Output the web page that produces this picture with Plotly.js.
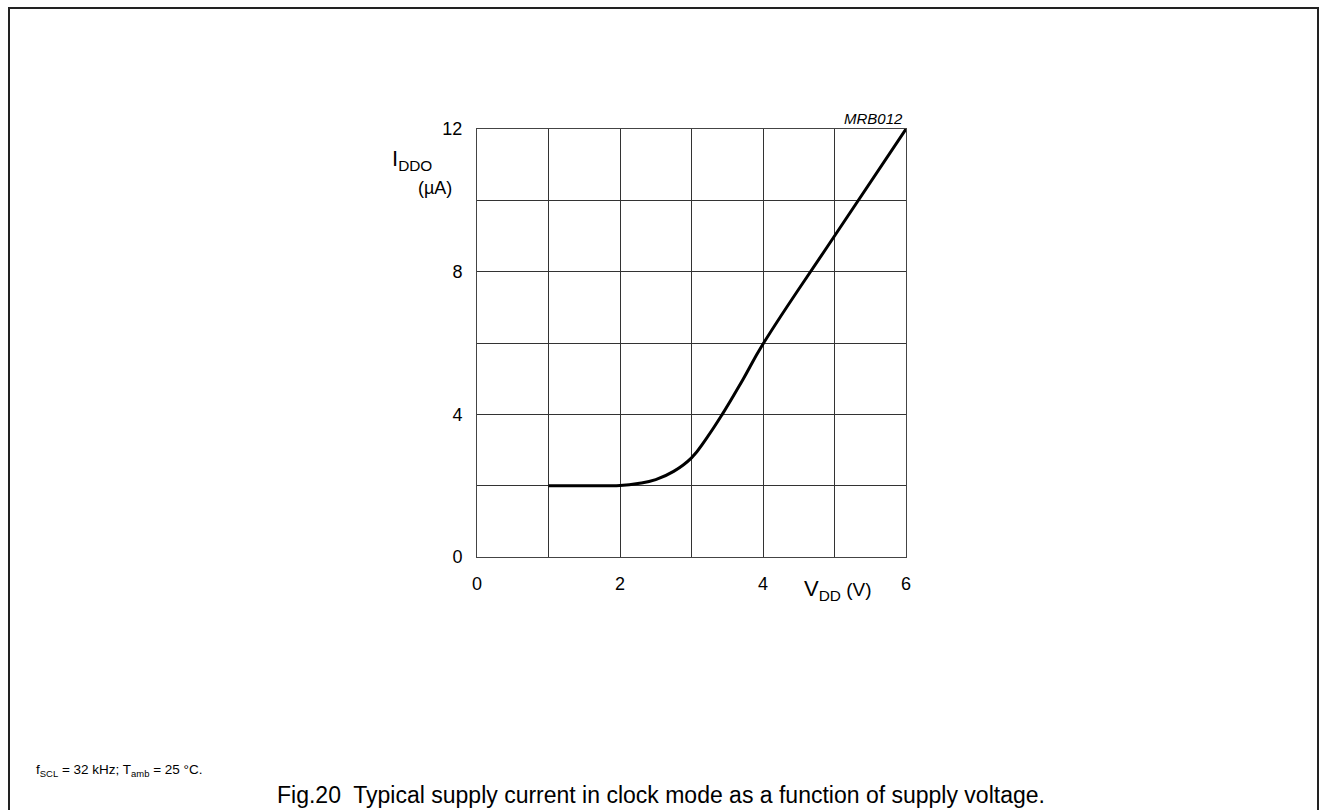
<!DOCTYPE html>
<html><head><meta charset="utf-8">
<script src="https://cdn.plot.ly/plotly-3.0.1.min.js"></script>
<style>html,body{margin:0;padding:0;background:#fff}#c{width:1329px;height:810px}</style>
</head><body><div id="c"></div>
<script>
const vdd = [1, 1.5, 1.8, 2, 2.25, 2.5, 2.75, 3, 3.2, 3.43, 3.72, 4, 5, 6];
const iddo = [2, 2, 2, 2.005, 2.06, 2.17, 2.4, 2.78, 3.3, 4, 4.98, 5.97, 9, 12];
const xTickVals = [0, 1, 2, 3, 4, 5, 6];
const xTickText = ['0', '', '2', '', '4', '', '6'];
const yTickVals = [0, 2, 4, 6, 8, 10, 12];
const yTickText = ['0', '', '4', '', '8', '', '12'];

const F = 'Liberation Sans, Arial, sans-serif';
const L = 477, R = 906, T = 129, B = 557, W = 1329, H = 810;
const px = v => (v - L) / (R - L);
const py = v => (B - v) / (B - T);

const trace = {x: vdd, y: iddo, mode: 'lines', line: {color: '#000', width: 3, shape: 'spline', smoothing: 1.3}, hoverinfo: 'skip'};

const layout = {
  width: W, height: H,
  margin: {l: L, r: W - R, t: T, b: H - B},
  paper_bgcolor: '#fff', plot_bgcolor: '#fff',
  showlegend: false,
  font: {family: F, size: 18, color: '#000'},
  xaxis: {range: [0, 6], tickvals: xTickVals, ticktext: xTickText, showgrid: true, gridcolor: '#333', gridwidth: 1,
    showline: true, linecolor: '#444', linewidth: 1, mirror: true, zeroline: false, ticks: '', ticklabelstandoff: 10,
    tickfont: {family: F, size: 18}},
  yaxis: {range: [0, 12], tickvals: yTickVals, ticktext: yTickText, showgrid: true, gridcolor: '#333', gridwidth: 1,
    showline: true, linecolor: '#444', linewidth: 1, mirror: true, zeroline: false, ticks: '', ticklabelstandoff: 10,
    tickfont: {family: F, size: 18}},
  shapes: [
    {type: 'path', xref: 'paper', yref: 'paper',
     path: `M ${px(9)} ${py(810)} L ${px(9)} ${py(8)} L ${px(1318)} ${py(8)} L ${px(1318)} ${py(810)}`,
     line: {color: '#222', width: 2}}
  ],
  annotations: [
    {xref: 'paper', yref: 'paper', x: px(905), y: py(118), xanchor: 'right', yanchor: 'middle', showarrow: false,
     text: '<i>MRB012</i>', font: {family: F, size: 15}},
    {xref: 'paper', yref: 'paper', x: px(434), y: py(160), xanchor: 'right', yanchor: 'middle', showarrow: false,
     text: 'I<sub>DDO</sub>', font: {family: F, size: 22}},
    {xref: 'paper', yref: 'paper', x: px(454), y: py(188), xanchor: 'right', yanchor: 'middle', showarrow: false,
     text: '(µA)', font: {family: F, size: 18}},
    {xref: 'paper', yref: 'paper', x: px(802), y: py(590), xanchor: 'left', yanchor: 'middle', showarrow: false,
     text: '<span style="font-size:22px">V<sub>DD</sub></span> (V)', font: {family: F, size: 19}},
    {xref: 'paper', yref: 'paper', x: px(34), y: py(770), xanchor: 'left', yanchor: 'middle', showarrow: false,
     text: 'f<sub>SCL</sub> = 32 kHz; T<sub>amb</sub> = 25 °C.', font: {family: F, size: 13.5}},
    {xref: 'paper', yref: 'paper', x: px(661), y: py(795), xanchor: 'center', yanchor: 'middle', showarrow: false,
     text: 'Fig.20  Typical supply current in clock mode as a function of supply voltage.', font: {family: F, size: 23}}
  ]
};
Plotly.newPlot('c', [trace], layout, {staticPlot: true, displayModeBar: false});
</script></body></html>
